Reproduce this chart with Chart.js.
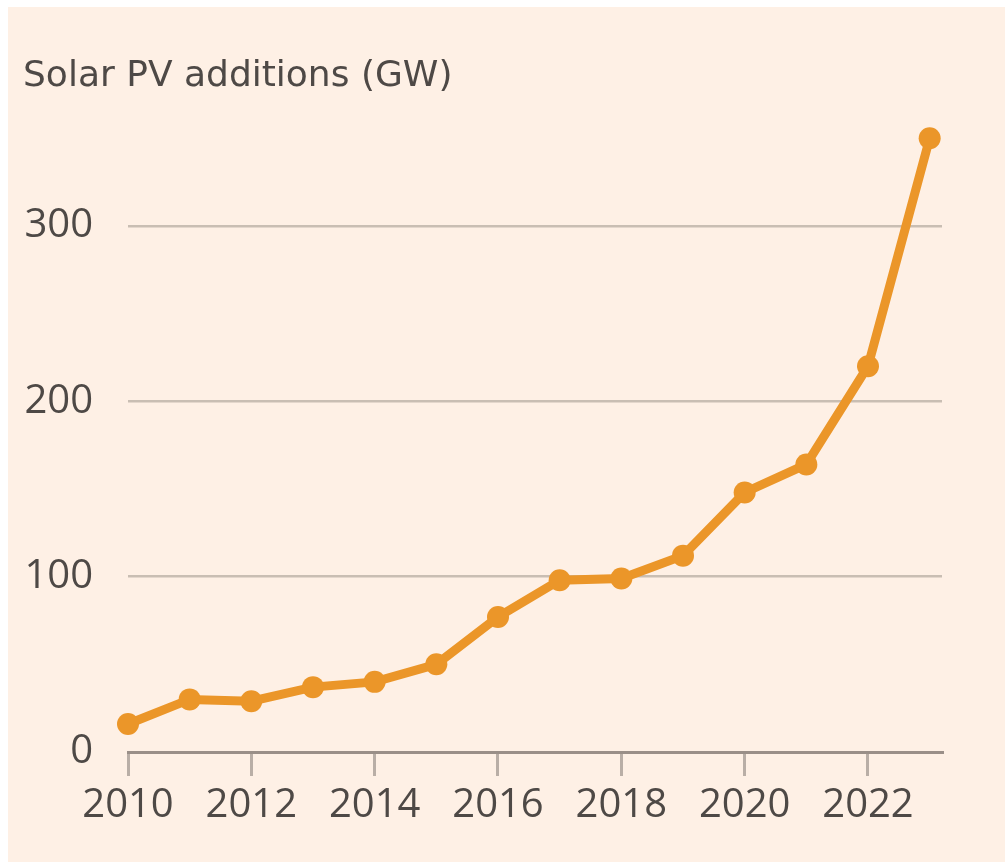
<!DOCTYPE html>
<html>
<head>
<meta charset="utf-8">
<script src="https://cdn.jsdelivr.net/npm/chart.js@4"></script>
<style>
    html, body { margin: 0; padding: 0; background: #ffffff; }
    #wrap {
        position: absolute;
        left: 8px;
        top: 7px;
        width: 997px;
        height: 855px;
        background: #fef0e5;
    }
</style>
</head>
<body>
<div id="wrap"><canvas id="solarChart"></canvas></div>
<script>
const years = [2010, 2011, 2012, 2013, 2014, 2015, 2016, 2017, 2018, 2019, 2020, 2021, 2022, 2023];
const additionsGW = [16, 30, 29, 37, 40, 50, 77, 98, 99, 112, 148, 164, 220, 350];
const xTickYears = [2010, 2012, 2014, 2016, 2018, 2020, 2022];
const yTickValues = [0, 100, 200, 300];

const orange = '#eb9629';
const textColor = '#4e4946';
const font = "'Open Sans', 'DejaVu Sans', sans-serif";

const ctx = document.getElementById('solarChart');
new Chart(ctx, {
    type: 'line',
    data: {
        datasets: [{
            label: 'Solar PV additions (GW)',
            data: years.map((y, i) => ({ x: y, y: additionsGW[i] })),
            borderColor: orange,
            backgroundColor: orange,
            borderWidth: 9,
            pointRadius: 11,
            pointBorderWidth: 0,
            pointBackgroundColor: orange,
            tension: 0,
            clip: false
        }]
    },
    options: {
        responsive: true,
        maintainAspectRatio: false,
        animation: false,
        layout: {
            padding: { left: 15, right: 63, top: 0, bottom: 26 }
        },
        plugins: {
            legend: { display: false },
            tooltip: { enabled: false },
            title: {
                display: true,
                text: 'Solar PV additions (GW)',
                align: 'start',
                color: textColor,
                font: { family: "'DejaVu Sans', sans-serif", size: 36, weight: 'normal', lineHeight: 1.2 },
                padding: { top: 48, bottom: 22.6 }
            }
        },
        scales: {
            x: {
                type: 'linear',
                min: 2010,
                max: 2023.2,
                afterBuildTicks: function(scale) {
                    scale.ticks = xTickYears.map(v => ({ value: v }));
                },
                border: { display: true, color: '#9a8f88', width: 3 },
                grid: {
                    drawOnChartArea: false,
                    drawTicks: true,
                    tickLength: 24,
                    lineWidth: 3,
                    color: '#b9aea6'
                },
                ticks: {
                    color: textColor,
                    font: { family: font, size: 40 },
                    padding: 6,
                    maxRotation: 0,
                    callback: v => String(v)
                }
            },
            y: {
                min: 0,
                max: 360,
                afterBuildTicks: function(scale) {
                    scale.ticks = yTickValues.map(v => ({ value: v }));
                },
                afterFit: function(scale) {
                    scale.width = 105;
                },
                border: { display: false },
                grid: {
                    drawTicks: false,
                    lineWidth: 2.5,
                    color: c => (c.tick && c.tick.value === 0) ? 'rgba(0,0,0,0)' : '#c9beb3'
                },
                ticks: {
                    color: textColor,
                    font: { family: font, size: 40 },
                    padding: 35
                }
            }
        }
    }
});
</script>
</body>
</html>
